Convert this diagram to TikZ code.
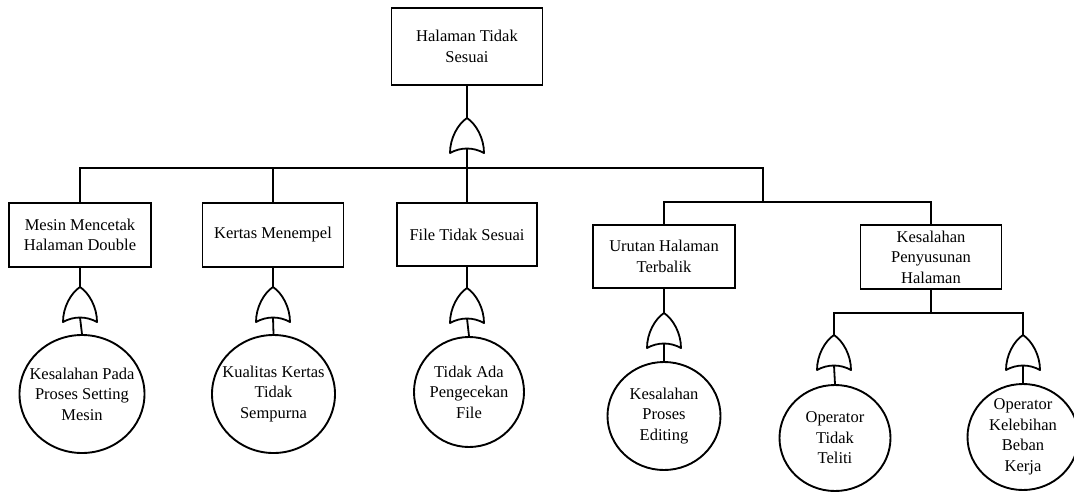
\documentclass[tikz,border=0pt]{standalone}
\usepackage{fontspec}
\setmainfont{Liberation Serif}
\newfontfamily\tnr{Liberation Serif}
\usetikzlibrary{shapes.geometric}
\begin{document}
\begin{tikzpicture}[x=1pt,y=-1pt,
  every node/.style={font=\tnr\fontsize{16.5}{20.5}\selectfont},
  ln/.style={line width=1.8pt, line join=miter},
  box/.style={draw, line width=1.9pt, rectangle, inner sep=0pt, align=center},
  ev/.style={draw, line width=1.9pt, ellipse, inner sep=0pt},
  evtext/.style={align=center, inner sep=0pt, font=\tnr\fontsize{16.5}{20.5}\selectfont},
  orgate/.pic={\draw[line width=1.8pt, line join=round]
      (0,0) .. controls (-9,6) and (-17,20) .. (-17,35)
      .. controls (-6,29) and (6,29) .. (17,35)
      .. controls (17,20) and (9,6) .. cycle;}
]
\useasboundingbox (0,0) rectangle (1074,491);

% boxes
\node[box, minimum width=151, minimum height=77] (top) at (467,46.5) {Halaman Tidak\\Sesuai};
\node[box, minimum width=142, minimum height=64] (mesin) at (80,235) {Mesin Mencetak\\Halaman Double};
\node[box, minimum width=141, minimum height=64] (kertas) at (273,235) {Kertas Menempel};
\node[box, minimum width=140, minimum height=63] (file) at (467,234.5) {File Tidak Sesuai};
\node[box, minimum width=142, minimum height=63] (urutan) at (664,256.5) {Urutan Halaman\\Terbalik};
\node[box, minimum width=141, minimum height=64] (kps) at (931,257) {Kesalahan\\Penyusunan\\Halaman};

% gates (apex coordinates and bottom coordinates)
\coordinate (gT) at (467,118);   \coordinate (gTb) at (467,148.5);
\coordinate (g1) at (80,287);    \coordinate (g1b) at (80,317.5);
\coordinate (g2) at (273,287);   \coordinate (g2b) at (273,317.5);
\coordinate (g3) at (467,288);   \coordinate (g3b) at (467,318.5);
\coordinate (g4) at (664,313);   \coordinate (g4b) at (664,343.5);
\coordinate (g5) at (834,335);   \coordinate (g5b) at (834,365.5);
\coordinate (g6) at (1023,335);  \coordinate (g6b) at (1023,365.5);
\foreach \g in {gT,g1,g2,g3,g4,g5,g6} { \pic at (\g) {orgate}; }

% events
\node[ev, minimum width=125, minimum height=118] (c1) at (82,394)
  [label={[evtext]center:Kesalahan Pada\\Proses Setting\\Mesin}] {};
\node[ev, minimum width=123, minimum height=118] (c2) at (273.5,394)
  [label={[evtext]center:Kualitas Kertas\\Tidak\\Sempurna}] {};
\node[ev, minimum width=110, minimum height=110] (c3) at (469,392)
  [label={[evtext]center:Tidak Ada\\Pengecekan\\File}] {};
\node[ev, minimum width=113, minimum height=108] (c4) at (664,416)
  [label={[evtext]center:Kesalahan\\Proses\\Editing}] {};
\node[ev, minimum width=111, minimum height=106] (c5) at (835,438)
  [label={[evtext]center:Operator\\Tidak\\Teliti}] {};
\node[ev, minimum width=111, minimum height=106] (c6) at (1023,437)
  [label={[evtext]center:Operator\\Kelebihan\\Beban\\Kerja}] {};

% junctions
\coordinate (bar) at (467,168);
\coordinate (j2) at (763,202);
\coordinate (j3) at (931,313);

% connectors
\draw[ln] (top.south) -- (gT);
\draw[ln] (gTb) -- (file.north);
\draw[ln] (mesin.north) |- (bar);
\draw[ln] (kertas.north) |- (bar);
\draw[ln] (bar) -| (j2);
\draw[ln] (urutan.north) |- (j2);
\draw[ln] (kps.north) |- (j2);
\draw[ln] (mesin.south) -- (g1);
\draw[ln] (kertas.south) -- (g2);
\draw[ln] (file.south) -- (g3);
\draw[ln] (urutan.south) -- (g4);
\draw[ln] (kps.south) -- (j3);
\draw[ln] (g5) |- (j3);
\draw[ln] (g6) |- (j3);
\draw[ln] (g1b) -- (c1.north);
\draw[ln] (g2b) -- (c2.north);
\draw[ln] (g3b) -- (c3.north);
\draw[ln] (g4b) -- (c4.north);
\draw[ln] (g5b) -- (c5.north);
\draw[ln] (g6b) -- (c6.north);
\end{tikzpicture}
\end{document}
